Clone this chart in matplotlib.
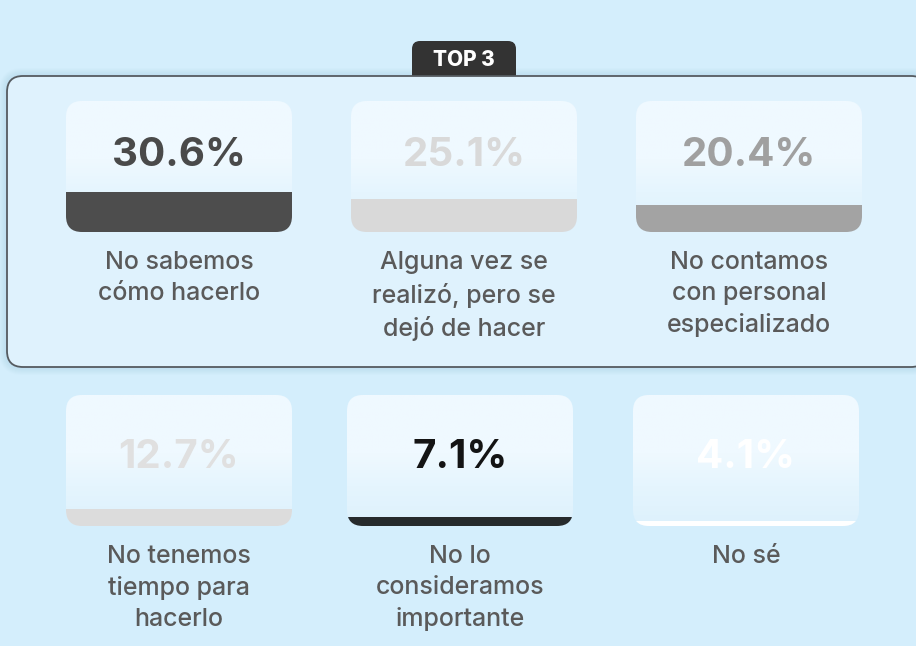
import numpy as np
import matplotlib.pyplot as plt
from matplotlib.patches import FancyBboxPatch
from matplotlib.colors import LinearSegmentedColormap

plt.rcParams['font.family'] = ['Inter', 'DejaVu Sans']

# data
values = [30.6, 25.1, 20.4, 12.7, 7.1, 4.1]
labels = ['No sabemos\ncómo hacerlo',
          'Alguna vez se\nrealizó, pero se\ndejó de hacer',
          'No contamos\ncon personal\nespecializado',
          'No tenemos\ntiempo para\nhacerlo',
          'No lo\nconsideramos\nimportante',
          'No sé']
bar_colors = ['#4d4d4d', '#d9d9d9', '#a3a3a3', '#dcdcdc', '#262a2c', '#ffffff']
num_colors = ['#4a4a4a', '#d9d9d9', '#a0a0a0', '#e0e0e0', '#141414', '#ffffff']

bg = '#d4eefc'
W, H = 916, 646
fig = plt.figure(figsize=(W / 100, H / 100), dpi=100, facecolor=bg)
ax = fig.add_axes([0, 0, 1, 1])
ax.set_xlim(0, W)
ax.set_ylim(H, 0)
ax.axis('off')

# top 3 box: soft shadow, tab, box
for i in range(8):
    g = 8 - i
    ax.add_patch(FancyBboxPatch((7 - g, 76 - g), 920 + 2 * g, 291 + 2 * g,
                                boxstyle='round,pad=0,rounding_size=%d' % (16 + g),
                                fc='#8fbcd8', ec='none', alpha=0.035, zorder=1))
ax.add_patch(FancyBboxPatch((412, 41), 104, 60, boxstyle='round,pad=0,rounding_size=8',
                            fc='#333333', ec='none', zorder=2))
ax.text(464, 59.5, 'TOP 3', color='white', fontsize=15, fontweight='heavy',
        ha='center', va='center', zorder=3)
ax.add_patch(FancyBboxPatch((7, 76), 920, 291, boxstyle='round,pad=0,rounding_size=16',
                            fc='#dff2fd', ec='#555b60', lw=1.3, zorder=3))

# card gradient
grad_cmap = LinearSegmentedColormap.from_list('card', [(0, '#f0f9ff'), (0.45, '#eff9ff'),
                                                       (0.7, '#e5f5fe'), (1, '#ddf1fc')])
grad = np.linspace(0, 1, 100).reshape(-1, 1)

card_x = [66, 351, 636, 66, 347, 633]
card_y = [101, 101, 101, 395, 395, 395]
num_off = [55, 55, 55, 62, 62, 62]
cw, ch = 226, 131

for i, v in enumerate(values):
    x0, y0 = card_x[i], card_y[i]
    card = FancyBboxPatch((x0, y0), cw, ch, boxstyle='round,pad=0,rounding_size=16',
                          fc='none', ec='none', zorder=4)
    ax.add_patch(card)
    im = ax.imshow(grad, cmap=grad_cmap, extent=(x0, x0 + cw, y0 + ch, y0),
                   aspect='auto', zorder=4, interpolation='bilinear')
    im.set_clip_path(card)
    # fill level from the bottom of the card
    bh = ch * v / 100
    b = ax.bar(x0 + cw / 2, bh, width=cw, bottom=y0 + ch - bh, color=bar_colors[i],
               zorder=5)[0]
    b.set_clip_path(card)
    ax.text(x0 + cw / 2, y0 + num_off[i], f'{v}%', color=num_colors[i], fontsize=29,
            fontweight='bold', ha='center', va='center', zorder=6)
    ax.text(x0 + cw / 2, y0 + ch + 19, labels[i], color='#5a5a5a', fontsize=18,
            fontweight='medium', ha='center', va='top', linespacing=1.43, zorder=6)

ax.set_xlim(0, W)
ax.set_ylim(H, 0)
fig.savefig('out.png', dpi=100, facecolor=bg)
